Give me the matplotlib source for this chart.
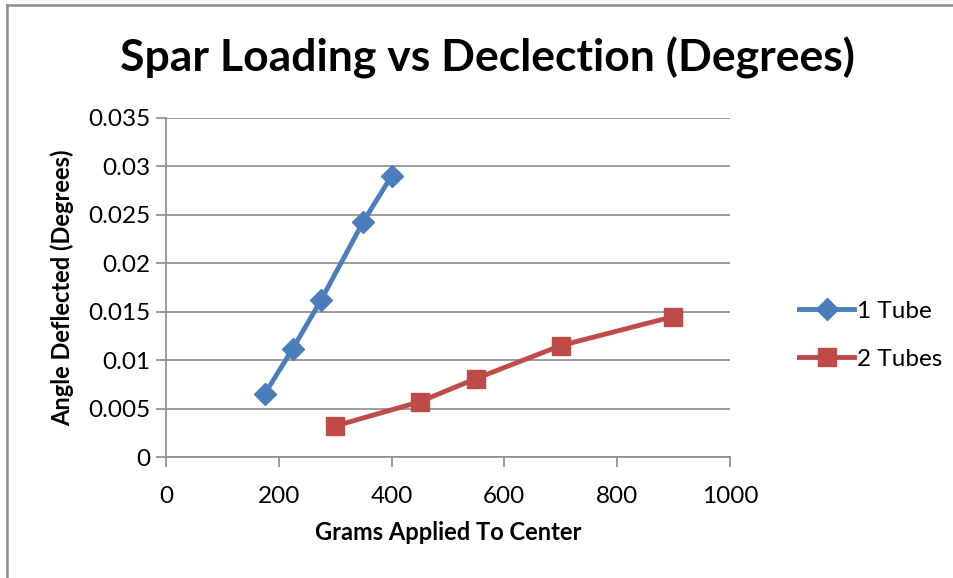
import matplotlib.pyplot as plt
from matplotlib.lines import Line2D

# Grams applied vs deflection angle for one and two spar tubes
grams_1tube = [175, 225, 275, 350, 400]
angle_1tube = [0.0065, 0.0112, 0.0162, 0.0243, 0.0290]
grams_2tube = [300, 450, 550, 700, 900]
angle_2tube = [0.0032, 0.0057, 0.0081, 0.0115, 0.0145]

x_ticks = [0, 200, 400, 600, 800, 1000]
y_ticks = [0, 0.005, 0.01, 0.015, 0.02, 0.025, 0.03, 0.035]
y_labels = ['0', '0.005', '0.01', '0.015', '0.02', '0.025', '0.03', '0.035']

plt.rcParams['font.family'] = ['Lato', 'DejaVu Sans']

fig = plt.figure(figsize=(9.54, 5.78), dpi=100)
# chart frame: only the left and top edges show
fig.add_artist(Line2D([0.0075, 0.0075], [0, 0.991], transform=fig.transFigure,
                      color='#8c8c8c', linewidth=1.8))
fig.add_artist(Line2D([0.0075, 1], [0.991, 0.991], transform=fig.transFigure,
                      color='#8c8c8c', linewidth=1.8))

ax = fig.add_axes([0.174, 0.2093, 0.591, 0.5867])
ax.plot(grams_1tube, angle_1tube, color='#4a7ebb', linewidth=3.5, marker='D',
        markersize=11, label='1 Tube', zorder=3)
ax.plot(grams_2tube, angle_2tube, color='#be4b48', linewidth=3.5, marker='s',
        markersize=13, label='2 Tubes', zorder=3)

ax.set_xlim(0, 1000)
ax.set_ylim(0, 0.035)
ax.set_xticks(x_ticks)
ax.set_yticks(y_ticks)
ax.set_yticklabels(y_labels)
ax.tick_params(labelsize=17.5, length=7, color='#8c8c8c', width=1.2, pad=4)
ax.tick_params(axis='x', pad=14)
ax.grid(axis='y', color='#8c8c8c', linewidth=1.2)
ax.set_axisbelow(True)
for side in ['top', 'right']:
    ax.spines[side].set_visible(False)
for side in ['left', 'bottom']:
    ax.spines[side].set_color('#8c8c8c')
    ax.spines[side].set_linewidth(1.2)

ax.set_xlabel('Grams Applied To Center', fontsize=17, fontweight='bold', labelpad=10)
ax.set_ylabel('Angle Deflected (Degrees)', fontsize=17, fontweight='bold', labelpad=10)
fig.text(0.511, 0.9, 'Spar Loading vs Declection (Degrees)', fontsize=32,
         fontweight='bold', ha='center', va='center')

fig.legend(loc='center left', bbox_to_anchor=(0.815, 0.42), frameon=False,
           fontsize=17.5, handlelength=2.25, labelspacing=1.1, handletextpad=0.1)

fig.savefig('out.png', dpi=100)
